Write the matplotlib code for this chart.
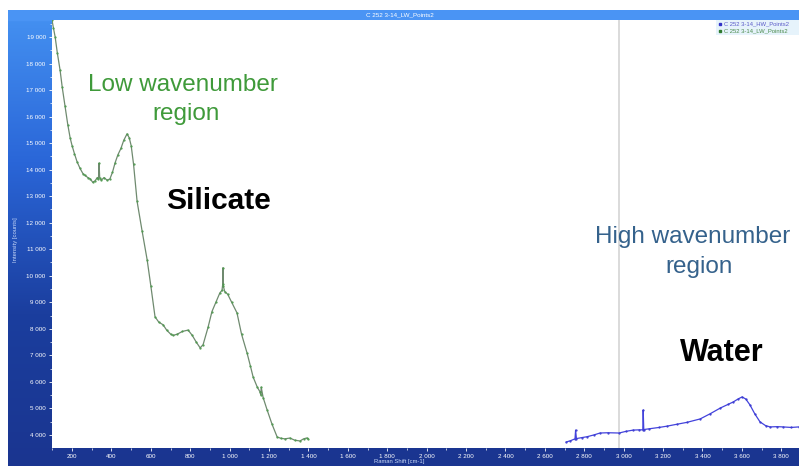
import matplotlib
matplotlib.use("Agg")
import matplotlib.pyplot as plt
import numpy as np
from matplotlib.colors import LinearSegmentedColormap
from matplotlib.ticker import FuncFormatter, MultipleLocator

# ---- data ----
lw_x = [98, 105, 114, 125, 139, 150, 164, 178, 190, 200, 212, 225, 240, 255, 266, 280,
        292, 305, 317, 328, 334, 337, 340, 348, 362, 378, 392, 405, 418, 432, 448, 462,
        479, 490, 500, 512, 530, 555, 581, 600, 621, 640, 662, 680, 700, 713, 735, 760,
        789, 810, 830, 850, 865, 890, 910, 930, 950, 961, 965, 966, 968, 975, 990, 1010,
        1037, 1060, 1088, 1105, 1119, 1140, 1154, 1158, 1160, 1170, 1190, 1215, 1241,
        1260, 1280, 1306, 1330, 1357, 1375, 1390, 1398]
lw_y = [19640, 19350, 19000, 18400, 17750, 17100, 16400, 15700, 15200, 14900, 14600,
        14300, 14050, 13850, 13780, 13700, 13650, 13520, 13580, 13700, 13650, 14250,
        13700, 13600, 13700, 13600, 13650, 13900, 14250, 14550, 14800, 15100, 15350,
        15200, 14900, 14200, 12800, 11700, 10600, 9600, 8450, 8250, 8150, 7950, 7800,
        7750, 7800, 7900, 7950, 7750, 7500, 7280, 7400, 8050, 8650, 9000, 9350, 9450,
        9700, 10300, 9600, 9400, 9300, 9000, 8600, 7800, 7090, 6600, 6180, 5800, 5620,
        5500, 5800, 5400, 4940, 4400, 3920, 3870, 3850, 3880, 3800, 3770, 3850, 3880, 3860]

hw_x = [2708, 2730, 2753, 2756, 2760, 2790, 2814, 2850, 2880, 2920, 2977, 3010, 3048,
        3080, 3097, 3099, 3102, 3130, 3180, 3221, 3270, 3320, 3388, 3440, 3490, 3530,
        3556, 3580, 3601, 3620, 3641, 3665, 3692, 3720, 3743, 3780, 3809, 3850, 3890]
hw_y = [3730, 3780, 3850, 4180, 3860, 3900, 3930, 4000, 4070, 4080, 4070, 4130, 4180,
        4190, 4190, 4940, 4200, 4230, 4280, 4330, 4400, 4470, 4600, 4800, 5010, 5150,
        5240, 5350, 5430, 5350, 5130, 4800, 4490, 4350, 4300, 4310, 4300, 4280, 4300]

cursor_x = 2977
title = "C 252 3-14_LW_Points2"
legend_labels = ["C 252 3-14_HW_Points2", "C 252 3-14_LW_Points2"]

W, H = 799, 466
fig = plt.figure(figsize=(W / 100, H / 100), dpi=100, facecolor="white")

def fx(px):
    return px / W

def fy(py):
    return 1 - py / H

# background blue gradient panel
bg = fig.add_axes([fx(8), 0, 1 - fx(8), fy(10)])
cmap = LinearSegmentedColormap.from_list("bg", ["#4592f2", "#2a66d8", "#1b3e9e", "#1a3590"])
grad = np.linspace(0, 1, 256).reshape(-1, 1)
bg.imshow(grad, aspect="auto", cmap=cmap, extent=[0, 1, 0, 1], origin="upper")
bg.set_axis_off()
# title bar
bg.axhspan(1 - 10 / 456, 1, color="#4a94f4", zorder=2)
fig.text(0.5, fy(14.5), title, color="white", fontsize=4.5, ha="center", va="center",
         family="Liberation Sans")

ax = fig.add_axes([fx(52), fy(448), 1 - fx(52), fy(20) - fy(448)])
ax.set_facecolor("white")
ax.set_xlim(98, 3890)
ax.set_ylim(3505, 19640)

ax.axvline(cursor_x, color="#d4d4d4", lw=1.2, zorder=1)
ax.plot(hw_x, hw_y, color="#4343dc", lw=0.9, marker="o", ms=0.6, mec="#3a3ad0", zorder=3)
ax.plot(lw_x, lw_y, color="#6f8a6f", lw=0.9, marker="o", ms=0.6, mec="#4f9a4f",
        mfc="#4f9a4f", zorder=3)

fmt = FuncFormatter(lambda v, p: f"{int(v):,}".replace(",", " "))
ax.xaxis.set_major_locator(MultipleLocator(200))
ax.xaxis.set_minor_locator(MultipleLocator(100))
ax.yaxis.set_major_locator(MultipleLocator(1000))
ax.yaxis.set_minor_locator(MultipleLocator(500))
ax.xaxis.set_major_formatter(fmt)
ax.yaxis.set_major_formatter(fmt)
ax.tick_params(axis="both", which="major", colors="white", labelsize=4.5, length=2.5,
               width=0.6, direction="out", pad=2)
ax.tick_params(axis="both", which="minor", colors="white", length=1.5, width=0.5,
               direction="out")
for lab in ax.get_xticklabels() + ax.get_yticklabels():
    lab.set_family("Liberation Sans")
for s in ax.spines.values():
    s.set_visible(False)

fig.text(fx(16), fy(240), "Intensity [counts]", color="#c8d8f8", fontsize=4.2,
         rotation=90, ha="center", va="center", family="Liberation Sans")
fig.text(0.5, fy(461.5), "Raman Shift [cm-1]", color="#c8d8f8", fontsize=4.2,
         ha="center", va="center", family="Liberation Sans")

# legend box
leg_ax = fig.add_axes([fx(716), fy(35), fx(799) - fx(716), fy(20) - fy(35)])
leg_ax.set_xlim(0, 1)
leg_ax.set_ylim(0, 1)
leg_ax.set_facecolor("#e6f3fb")
leg_ax.set_xticks([])
leg_ax.set_yticks([])
for s in leg_ax.spines.values():
    s.set_visible(False)
leg_cols = ["#3232c8", "#2e7a2e"]
leg_txt = ["#5a5ac8", "#4a8a4a"]
for i, (lab, c, tc) in enumerate(zip(legend_labels, leg_cols, leg_txt)):
    yy = 0.72 - i * 0.42
    leg_ax.plot([0.05], [yy], "s", ms=1.8, color=c)
    leg_ax.text(0.1, yy, lab, fontsize=4.2, color=tc, va="center", ha="left",
                family="Liberation Sans")

# annotations
fig.text(fx(183), fy(85), "Low wavenumber", color="#3f9a3a", fontsize=17.5,
         ha="center", va="center", family="Liberation Sans")
fig.text(fx(186), fy(114), "region", color="#3f9a3a", fontsize=17.5,
         ha="center", va="center", family="Liberation Sans")
fig.text(fx(218), fy(201), "Silicate", color="black", fontsize=21.5, fontweight="bold",
         ha="center", va="center", family="Liberation Sans")
fig.text(fx(693), fy(237), "High wavenumber", color="#35628c", fontsize=17.5,
         ha="center", va="center", family="Liberation Sans")
fig.text(fx(699), fy(267), "region", color="#35628c", fontsize=17.5,
         ha="center", va="center", family="Liberation Sans")
fig.text(fx(722), fy(353), "Water", color="black", fontsize=22, fontweight="bold",
         ha="center", va="center", family="Liberation Sans")

fig.savefig("out.png", dpi=100, facecolor="white")
